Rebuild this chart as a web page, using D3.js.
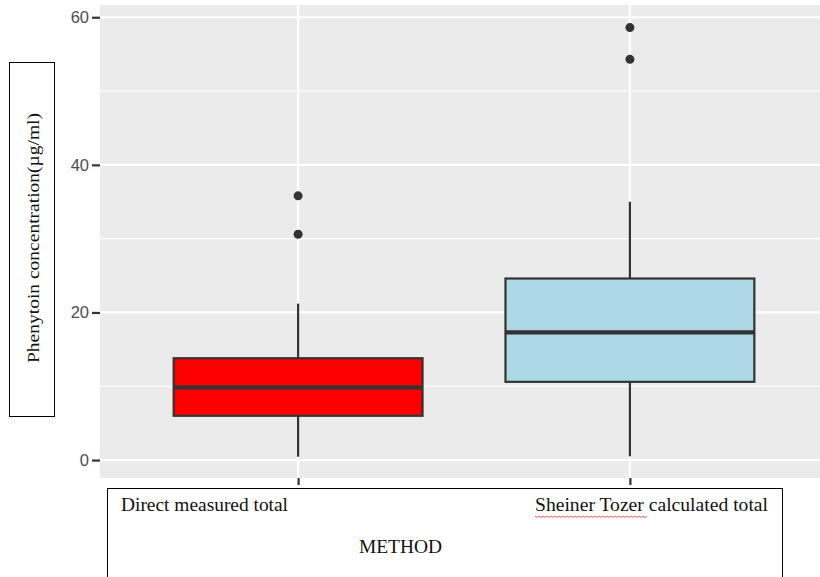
<!DOCTYPE html>
<html>
<head>
<meta charset="utf-8">
<script src="https://cdn.jsdelivr.net/npm/d3@7"></script>
<style>
  body { margin: 0; background: #fff; }
  svg { display: block; }
</style>
</head>
<body>
<div id="chart"></div>
<script>
// box stats
var methods   = ["Direct measured total", "Sheiner Tozer calculated total"];
var fills     = ["#FF0000", "#ADD8E6"];
var lowers    = [0.45, 0.5];
var q1s       = [6.0, 10.6];
var medians   = [9.85, 17.3];
var q3s       = [13.8, 24.6];
var uppers    = [21.2, 35.0];
var outliers  = [[30.6, 35.8], [54.3, 58.6]];
var yTicks    = [0, 20, 40, 60];
var yMinor    = [10, 30, 50];

var width  = 820,
    height = 577;

var panel = {left: 100, top: 5, right: 830, bottom: 478};

var svg = d3.select("#chart").append("svg")
  .attr("width", width)
  .attr("height", height);

// discrete axis: categories at 1 and 2, expanded 0.6 each side
var x = d3.scaleLinear().domain([0.4, 2.6]).range([panel.left - 1, panel.right - 1]);
var y = d3.scaleLinear().domain([-2.43, 61.66]).range([panel.bottom, panel.top]);

var boxHalf = 0.375;

svg.append("rect")
  .attr("x", panel.left).attr("y", panel.top)
  .attr("width", panel.right - panel.left)
  .attr("height", panel.bottom - panel.top)
  .attr("fill", "#EBEBEB");

var grid = svg.append("g");

grid.selectAll("line.minor").data(yMinor).enter().append("line")
  .attr("class", "minor")
  .attr("x1", panel.left).attr("x2", panel.right)
  .attr("y1", function (d) { return y(d); })
  .attr("y2", function (d) { return y(d); })
  .attr("stroke", "#fff").attr("stroke-width", 1.1);

grid.selectAll("line.major").data(yTicks).enter().append("line")
  .attr("class", "major")
  .attr("x1", panel.left).attr("x2", panel.right)
  .attr("y1", function (d) { return y(d); })
  .attr("y2", function (d) { return y(d); })
  .attr("stroke", "#fff").attr("stroke-width", 2.2);

grid.selectAll("line.vmajor").data(methods).enter().append("line")
  .attr("class", "vmajor")
  .attr("x1", function (d, i) { return x(i + 1); })
  .attr("x2", function (d, i) { return x(i + 1); })
  .attr("y1", panel.top).attr("y2", panel.bottom)
  .attr("stroke", "#fff").attr("stroke-width", 2.2);

// y axis
var yAxis = svg.append("g")
  .attr("transform", "translate(" + panel.left + ",0)")
  .call(d3.axisLeft(y).tickValues(yTicks).tickSize(8).tickPadding(3));
yAxis.select(".domain").remove();
yAxis.selectAll(".tick line").attr("stroke", "#333").attr("stroke-width", 2.2);
yAxis.selectAll(".tick text")
  .attr("fill", "#4D4D4D")
  .style("font-family", "Liberation Sans, Arial, sans-serif")
  .style("font-size", "16.5px");

// x ticks
var xAxis = svg.append("g")
  .attr("transform", "translate(0," + panel.bottom + ")")
  .call(d3.axisBottom(x).tickValues([1, 2]).tickSize(7).tickFormat(""));
xAxis.select(".domain").remove();
xAxis.selectAll(".tick line").attr("stroke", "#333").attr("stroke-width", 2.2);

// boxes
var boxes = svg.selectAll("g.box").data(methods).enter().append("g").attr("class", "box");

boxes.append("line")
  .attr("x1", function (d, i) { return x(i + 1); })
  .attr("x2", function (d, i) { return x(i + 1); })
  .attr("y1", function (d, i) { return y(q3s[i]); })
  .attr("y2", function (d, i) { return y(uppers[i]); })
  .attr("stroke", "#333").attr("stroke-width", 2.2);

boxes.append("line")
  .attr("x1", function (d, i) { return x(i + 1); })
  .attr("x2", function (d, i) { return x(i + 1); })
  .attr("y1", function (d, i) { return y(q1s[i]); })
  .attr("y2", function (d, i) { return y(lowers[i]); })
  .attr("stroke", "#333").attr("stroke-width", 2.2);

boxes.append("rect")
  .attr("x", function (d, i) { return x(i + 1 - boxHalf); })
  .attr("width", function (d, i) { return x(i + 1 + boxHalf) - x(i + 1 - boxHalf); })
  .attr("y", function (d, i) { return y(q3s[i]); })
  .attr("height", function (d, i) { return y(q1s[i]) - y(q3s[i]); })
  .attr("fill", function (d, i) { return fills[i]; })
  .attr("stroke", "#333").attr("stroke-width", 2.2);

boxes.append("line")
  .attr("x1", function (d, i) { return x(i + 1 - boxHalf); })
  .attr("x2", function (d, i) { return x(i + 1 + boxHalf); })
  .attr("y1", function (d, i) { return y(medians[i]); })
  .attr("y2", function (d, i) { return y(medians[i]); })
  .attr("stroke", "#333").attr("stroke-width", 4.4);

boxes.each(function (d, i) {
  d3.select(this).selectAll("circle").data(outliers[i]).enter().append("circle")
    .attr("cx", x(i + 1))
    .attr("cy", function (v) { return y(v); })
    .attr("r", 4.5)
    .attr("fill", "#333");
});

var serif = "Liberation Serif, Times New Roman, serif";

// y label box
svg.append("rect")
  .attr("x", 9.5).attr("y", 62.5)
  .attr("width", 45).attr("height", 354)
  .attr("fill", "#fff").attr("stroke", "#000").attr("stroke-width", 1);

svg.append("text")
  .attr("transform", "translate(39,238) rotate(-90)")
  .attr("text-anchor", "middle")
  .attr("textLength", 250)
  .attr("lengthAdjust", "spacingAndGlyphs")
  .style("font-family", serif)
  .style("font-size", "17px")
  .attr("fill", "#111")
  .text("Phenytoin concentration(µg/ml)");

// x label box
svg.append("rect")
  .attr("x", 107.5).attr("y", 488.5)
  .attr("width", 675).attr("height", 100)
  .attr("fill", "#fff").attr("stroke", "#000").attr("stroke-width", 1);

svg.append("text")
  .attr("x", 121).attr("y", 511)
  .attr("textLength", 167)
  .attr("lengthAdjust", "spacingAndGlyphs")
  .style("font-family", serif).style("font-size", "18px")
  .attr("fill", "#111")
  .text(methods[0]);

svg.append("text")
  .attr("x", 535).attr("y", 511)
  .attr("textLength", 233)
  .attr("lengthAdjust", "spacingAndGlyphs")
  .style("font-family", serif).style("font-size", "18px")
  .attr("fill", "#111")
  .text(methods[1]);

// spell-check squiggle under "Sheiner Tozer"
var sq = [];
for (var px = 535; px <= 648; px += 2) sq.push([px, 516 + ((px - 535) / 2 % 2 ? 1.5 : 0)]);
svg.append("path")
  .attr("d", d3.line()(sq))
  .attr("fill", "none").attr("stroke", "#E33").attr("stroke-width", 0.8);

svg.append("text")
  .attr("x", 359).attr("y", 553)
  .attr("textLength", 83)
  .attr("lengthAdjust", "spacingAndGlyphs")
  .style("font-family", serif).style("font-size", "18px")
  .attr("fill", "#111")
  .text("METHOD");
</script>
</body>
</html>
